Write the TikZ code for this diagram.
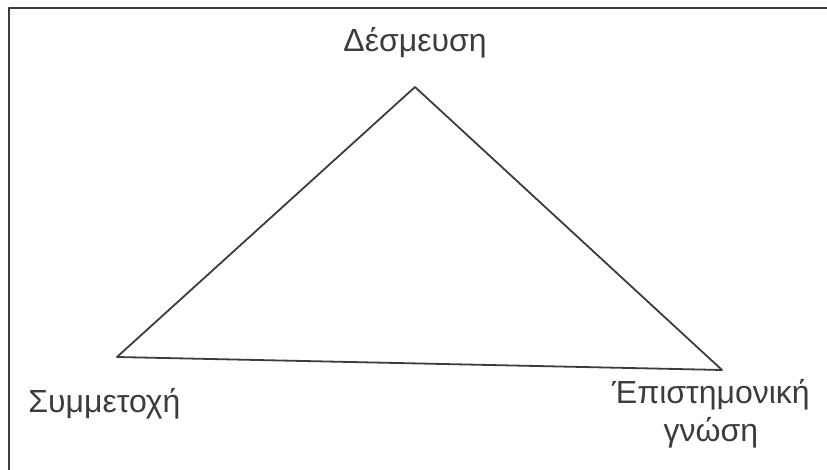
\documentclass[tikz,border=0pt]{standalone}
\usepackage{fontspec}
\setmainfont{Liberation Sans}
\definecolor{ink}{HTML}{3C3C40}
\begin{document}
\begin{tikzpicture}[x=0.5pt, y=-0.5pt, line cap=round, line join=round,
    word/.style={text=ink, font=\fontsize{16}{19}\selectfont, inner sep=1pt, align=center},
    edge/.style={draw=ink, line width=0.9pt},
    frame/.style={draw=ink, line width=1.1pt}]
  \useasboundingbox (0,0) rectangle (827,470);
  \coordinate (fTop) at (9,8);
  \coordinate (fTopR) at (827,8);
  \coordinate (fBot) at (9,470);
  \draw[frame, line cap=butt] (fBot) -- (fTop) -- (fTopR);
  \coordinate (vTop) at (415,87);
  \coordinate (vLeft) at (117,357);
  \coordinate (vRight) at (722,370);
  \draw[edge] (vTop) -- (vLeft) -- (vRight) -- cycle;
  \node[word] (desm) at (415,43) {Δέσμευση};
  \node[word, anchor=west] (symm) at (26,404) {Συμμετοχή};
  \node[word] (epist) at (711,414) {Έπιστημονική\\γνώση};
\end{tikzpicture}
\end{document}
